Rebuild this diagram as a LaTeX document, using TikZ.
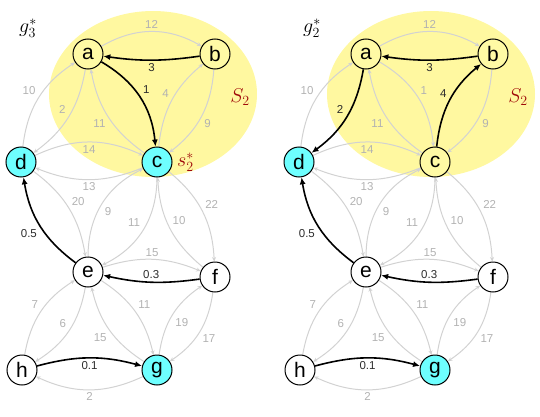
\RequirePackage{fix-cm}
\documentclass[tikz,border=0pt]{standalone}
\usepackage{fontspec}
\setmainfont{Liberation Sans}
\usetikzlibrary{arrows.meta}
\pgfdeclarelayer{bglayer}
\pgfdeclarelayer{edgelayer}
\pgfsetlayers{bglayer,edgelayer,main}
\definecolor{ellyel}{RGB}{255,248,160}
\definecolor{nodeyel}{RGB}{255,250,165}
\definecolor{nodecyan}{RGB}{110,255,255}
\definecolor{edgegray}{RGB}{210,210,210}
\definecolor{labgray}{RGB}{178,178,178}
\definecolor{labdark}{RGB}{45,45,45}
\definecolor{setred}{RGB}{160,10,10}
\newcommand{\drawgraph}[2]{%
  \begin{pgfonlayer}{bglayer}
    \fill[ellyel] (#2+153,-94) ellipse [x radius=104, y radius=83];
  \end{pgfonlayer}
  \node[vert,fill=nodeyel] (#1a) at (#2+88,-54) {a};
  \node[vert,fill=nodeyel] (#1b) at (#2+215,-54) {b};
  \node[vert,cfill] (#1c) at (#2+157,-162) {c};
  \node[vert,fill=nodecyan] (#1d) at (#2+21,-162) {d};
  \node[vert,fill=white] (#1e) at (#2+88,-272) {e};
  \node[vert,fill=white] (#1f) at (#2+215,-277) {f};
  \node[vert,fill=white] (#1h) at (#2+22,-370) {h};
  \node[vert,fill=nodecyan] (#1g) at (#2+157,-370) {g};
  \node[mathlab,text=setred] (#1S) at (#2+240,-97) {$S_2$};
  \begin{pgfonlayer}{edgelayer}
  \draw[gry] (#1a) to[bend left=30] node[auto] {12} (#1b);
  \draw[blk] (#1b) to[bend left=8] node[auto] {3} (#1a);
  \draw[ac] (#1a) to[bend left=27] node[auto] {1} (#1c);
  \draw[gry] (#1c) to[bend left=22] node[auto] {11} (#1a);
  \draw[cb] (#1c) to[bend left=22] node[auto] {4} (#1b);
  \draw[gry] (#1b) to[bend left=24] node[auto] {9} (#1c);
  \draw[gry] (#1d) to[bend left=25] node[auto] {10} (#1a);
  \draw[ad] (#1a) to[bend left=22] node[auto,swap] {2} (#1d);
  \draw[gry] (#1d) to[bend left=25] node[auto,swap] {14} (#1c);
  \draw[gry] (#1c) to[bend left=22] node[auto] {13} (#1d);
  \draw[blk] (#1e) to[bend left=22] node[auto] {0.5} (#1d);
  \draw[gry] (#1d) to[bend left=22] node[auto] {20} (#1e);
  \draw[gry] (#1e) to[bend left=32] node[auto,swap] {9} (#1c);
  \draw[gry] (#1c) to[bend left=32] node[auto,swap] {11} (#1e);
  \draw[gry] (#1c) to[bend left=24] node[auto] {22} (#1f);
  \draw[gry] (#1f) to[bend left=24] node[auto,swap] {10} (#1c);
  \draw[gry] (#1e) to[bend left=20] node[auto] {15} (#1f);
  \draw[blk] (#1f) to[bend left=10] node[auto,swap] {0.3} (#1e);
  \draw[gry] (#1h) to[bend left=24] node[auto] {7} (#1e);
  \draw[gry] (#1e) to[bend left=24] node[auto,swap] {6} (#1h);
  \draw[gry] (#1g) to[bend left=22] node[auto] {15} (#1e);
  \draw[gry] (#1e) to[bend left=22] node[auto] {11} (#1g);
  \draw[gry] (#1g) to[bend left=24] node[auto,swap] {19} (#1f);
  \draw[gry] (#1f) to[bend left=24] node[auto] {17} (#1g);
  \draw[blk] (#1h) to[bend left=15] node[auto,swap] {0.1} (#1g);
  \draw[gry] (#1g) to[bend left=25] node[auto] {2} (#1h);
  \end{pgfonlayer}
}
\begin{document}
\begin{tikzpicture}[x=1pt,y=1pt,
  vert/.style={circle,draw=black,line width=1pt,minimum size=30pt,inner sep=0pt,
    font=\fontsize{21}{21}\selectfont},
  gry/.style={draw=edgegray,line width=1pt,-{Stealth[length=4.5pt,width=4pt]},
    nodes={text=labgray,font=\fontsize{11.5}{12}\selectfont,inner sep=2.5pt}},
  blk/.style={draw=black,line width=1.6pt,-{Latex[length=7pt,width=6pt]},
    nodes={text=labdark,font=\fontsize{11.5}{12}\selectfont,inner sep=2.5pt}},
  mathlab/.style={font=\fontsize{20}{20}\selectfont}]
\useasboundingbox (0,0) rectangle (540,-417);
\begin{scope}[ac/.style={blk}, cb/.style={gry}, ad/.style={gry},
  cfill/.style={fill=nodecyan}]
  \node[mathlab] (gl) at (28,-28) {$g_3^*$};
  \drawgraph{L}{0}
  \node[mathlab,text=setred,anchor=west] (sstar) at ([xshift=1pt]Lc.east) {$s_2^*$};
\end{scope}
\begin{scope}[ac/.style={gry}, cb/.style={blk}, ad/.style={blk},
  cfill/.style={fill=nodeyel}]
  \node[mathlab] (gr) at (312,-28) {$g_2^*$};
  \drawgraph{R}{278}
\end{scope}
\end{tikzpicture}
\end{document}
